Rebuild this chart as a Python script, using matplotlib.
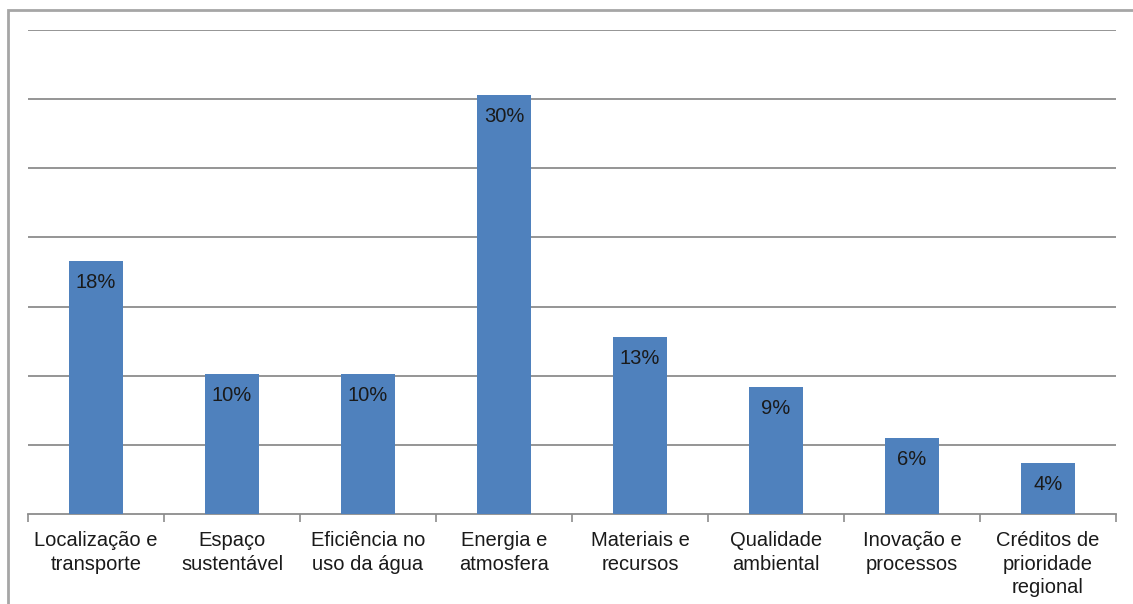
import matplotlib
matplotlib.use("Agg")
import matplotlib.pyplot as plt
from matplotlib.patches import Rectangle
import numpy as np

categories = ["Localização e\ntransporte", "Espaço\nsustentável", "Eficiência no\nuso da água",
              "Energia e\natmosfera", "Materiais e\nrecursos", "Qualidade\nambiental",
              "Inovação e\nprocessos", "Créditos de\nprioridade\nregional"]
values = [18.3, 10.1, 10.1, 30.3, 12.8, 9.2, 5.5, 3.7]
labels = ["18%", "10%", "10%", "30%", "13%", "9%", "6%", "4%"]

plt.rcParams['font.family'] = ['Liberation Sans', 'DejaVu Sans']

W, H = 1133, 604
fig = plt.figure(figsize=(W/100, H/100), dpi=100)
ax = fig.add_axes([28/W, 1-514/H, (1116-28)/W, (514-30)/H])

x = np.arange(len(categories))
bars = ax.bar(x, values, width=0.4, color="#4F81BD", zorder=3)
for b, lab in zip(bars, labels):
    ax.annotate(lab, (b.get_x()+b.get_width()/2, b.get_height()),
                xytext=(0, -15.5), textcoords="offset points",
                ha="center", va="center", fontsize=14.5, color="#1a1a1a", zorder=4)

ax.set_xlim(-0.5, len(categories)-0.5)
ax.set_ylim(0, 35)
ax.set_yticks(np.arange(5, 36, 5))
ax.yaxis.grid(True, color="#8c8c8c", linewidth=1.3, zorder=0)
ax.tick_params(axis='y', left=False, labelleft=False)
ax.set_xticks(x)
ax.set_xticklabels(categories, fontsize=14.5, color="#1a1a1a", linespacing=1.28)
ax.set_xticks(np.arange(-0.5, len(categories), 1), minor=True)
ax.tick_params(axis='x', which='major', length=0, pad=12.5)
ax.tick_params(axis='x', which='minor', length=6, width=1.2, color="#8c8c8c")
for s in ["top", "right", "left"]:
    ax.spines[s].set_visible(False)
ax.spines["bottom"].set_color("#8c8c8c")
ax.spines["bottom"].set_linewidth(1.3)

fig.patches.append(Rectangle((8/W, -0.1), 1.2, 1.1 - 10/H, transform=fig.transFigure,
                             fill=False, edgecolor="#a6a6a6", linewidth=2))

fig.savefig("out.png", dpi=100)
